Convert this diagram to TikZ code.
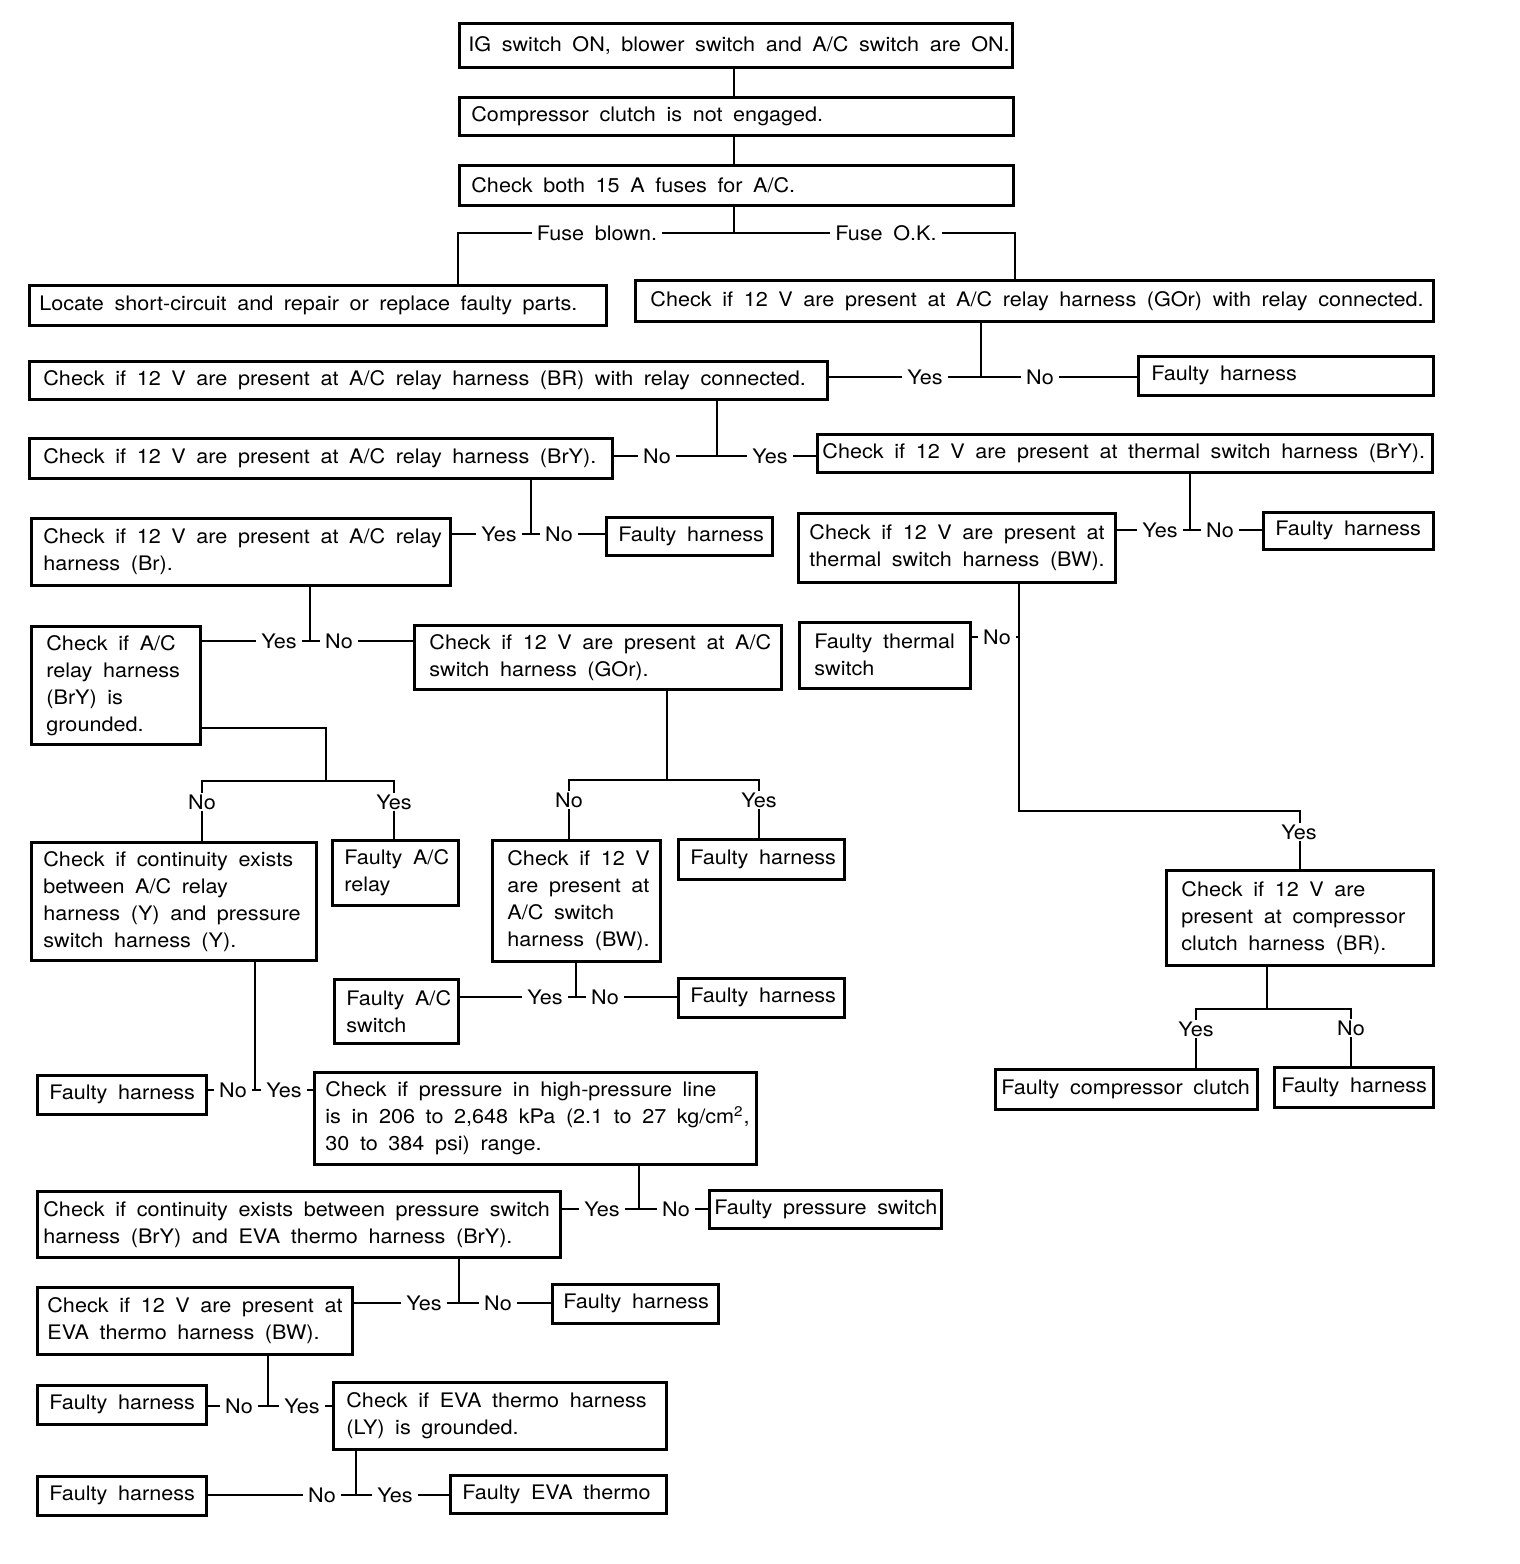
\documentclass[tikz,border=0pt]{standalone}
\usepackage{fontspec}
\setmainfont{TeX Gyre Heros}[FakeStretch=1.08,WordSpace=1.77]
\newcommand\chartfont{\fontsize{10}{13.5}\selectfont}
\newcommand\chartbox[6][6.5pt]{%
  \node[box={#4}{#5}] (#2) at (#3) {};
  \node[txt] (#2t) at ([xshift=#1]#2.west) {#6};}

\begin{document}
\begin{tikzpicture}[x=0.5pt,y=-0.5pt,font=\chartfont,
  box/.style 2 args={draw,line width=1.3pt,anchor=north west,
    minimum width=#1*0.5pt,minimum height=#2*0.5pt},
  txt/.style={anchor=west,align=left,inner sep=0pt},
  lbl/.style={fill=white,inner xsep=2.5pt,inner ysep=1pt},
  link/.style={line width=0.9pt}]
\useasboundingbox (0,0) rectangle (1520,1564);
\chartbox[5pt]{b1}{458,22}{553}{44}{IG switch ON, blower switch and A/C switch are ON.}
\chartbox{b2}{458,96}{554}{38}{Compressor clutch is not engaged.}
\chartbox{b3}{458,164}{554}{40}{Check both 15 A fuses for A/C.}
\chartbox[5.5pt]{b4}{28,284}{577}{40}{Locate short-circuit and repair or replace faulty parts.}
\chartbox[8pt]{b5}{634,279}{798}{41}{Check if 12 V are present at A/C relay harness (GOr) with relay connected.}
\chartbox[7.5pt]{b6}{28,360}{798}{38}{Check if 12 V are present at A/C relay harness (BR) with relay connected.}
\chartbox[7pt]{f1}{1137,355}{295}{39}{Faulty harness}
\chartbox[7.5pt]{b7}{28,437}{583}{40}{Check if 12 V are present at A/C relay harness (BrY).}
\chartbox[3pt]{b8}{816,433}{615}{38}{Check if 12 V are present at thermal switch harness (BrY).}
\chartbox{b9}{30,517}{419}{67}{Check if 12 V are present at A/C relay\\harness (Br).}
\chartbox{f2}{605,516}{166}{38}{Faulty harness}
\chartbox[6pt]{b10}{797,512}{317}{69}{Check if 12 V are present at\\thermal switch harness (BW).}
\chartbox{f3}{1262,511}{170}{37}{Faulty harness}
\chartbox[8pt]{b11}{30,625}{169}{118}{Check if A/C\\relay harness\\(BrY) is\\grounded.}
\chartbox[8pt]{b12}{413,624}{367}{64}{Check if 12 V are present at A/C\\switch harness (GOr).}
\chartbox[8pt]{f4}{798,621}{171}{66}{Faulty thermal\\switch}
\chartbox[8pt]{b13}{1165,869}{267}{95}{Check if 12 V are\\present at compressor\\clutch harness (BR).}
\chartbox[3.5pt]{f5}{994,1068}{262}{40}{Faulty compressor clutch}
\chartbox[4pt]{f6}{1273,1066}{159}{40}{Faulty harness}
\chartbox{b14}{30,841}{285}{118}{Check if continuity exists\\between A/C relay\\harness (Y) and pressure\\switch harness (Y).}
\chartbox{f7}{331,839}{126}{65}{Faulty A/C\\relay}
\chartbox[8pt]{b15}{491,839}{168}{121}{Check if 12 V\\are present at\\A/C switch\\harness (BW).}
\chartbox{f8}{677,838}{166}{40}{Faulty harness}
\chartbox{f9}{333,978}{124}{64}{Faulty A/C\\switch}
\chartbox{f10}{677,977}{166}{39}{Faulty harness}
\chartbox{f11}{36,1074}{169}{39}{Faulty harness}
\chartbox[6pt]{b16}{313,1071}{442}{92}{Check if pressure in high-pressure line\\is in 206 to 2,648 kPa (2.1 to 27 kg/cm\textsuperscript{2},\\30 to 384 psi) range.}
\chartbox[3.5pt]{b17}{36,1190}{523}{66}{Check if continuity exists between pressure switch\\harness (BrY) and EVA thermo harness (BrY).}
\chartbox[3pt]{f12}{708,1189}{232}{38}{Faulty pressure switch}
\chartbox[5.5pt]{b18}{36,1286}{315}{67}{Check if 12 V are present at\\EVA thermo harness (BW).}
\chartbox[6pt]{f13}{551,1283}{166}{39}{Faulty harness}
\chartbox{f14}{36,1384}{169}{39}{Faulty harness}
\chartbox[7pt]{b19}{332,1381}{333}{67}{Check if EVA thermo harness\\(LY) is grounded.}
\chartbox{f15}{36,1475}{169}{39}{Faulty harness}
\chartbox{f16}{449,1474}{216}{38}{Faulty EVA thermo}

\coordinate (fs) at (734,233);
\coordinate (j1) at (981,377);
\coordinate (j2) at (717,456);
\coordinate (j3) at (531,534);
\coordinate (j4) at (1190,530);
\coordinate (j5) at (310,641);
\coordinate (j6) at (1019,637);
\coordinate (k6) at (1019,811);
\coordinate (j7) at (1267,1009);
\coordinate (y7c) at (1196,1009);
\coordinate (n7c) at (1351,1009);
\coordinate (j8) at (326,781);
\coordinate (n8c) at (202,781);
\coordinate (y8c) at (394,781);
\coordinate (j9) at (667,780);
\coordinate (n9c) at (569,780);
\coordinate (y9c) at (759,780);
\coordinate (j10) at (576,997);
\coordinate (j11) at (255,1090);
\coordinate (j12) at (639,1209);
\coordinate (j13) at (459,1303);
\coordinate (j14) at (268,1406);
\coordinate (j15) at (356,1495);

\draw[link] (b1.south -| fs) -- (b2.north -| fs);
\draw[link] (b2.south -| fs) -- (b3.north -| fs);
\draw[link] (b3.south -| fs) -- (fs);
\draw[link] (b4.north -| b3.west) |- (fs) -| (b5.north -| b3.east);
\draw[link] (b5.south -| j1) -- (j1);
\draw[link] (b6.east |- j1) -- (f1.west |- j1);
\draw[link] (b6.south -| j2) -- (j2);
\draw[link] (b7.east |- j2) -- (b8.west |- j2);
\draw[link] (b7.south -| j3) -- (j3);
\draw[link] (b9.east |- j3) -- (f2.west |- j3);
\draw[link] (b8.south -| j4) -- (j4);
\draw[link] (b10.east |- j4) -- (f3.west |- j4);
\draw[link] (b9.south -| j5) -- (j5);
\draw[link] (b11.east |- j5) -- (b12.west |- j5);
\draw[link] (b10.south -| j6) -- (k6) -| (b13.north);
\draw[link] (f4.east |- j6) -- (j6);
\draw[link] (b13.south -| j7) -- (j7);
\draw[link] (f5.north -| y7c) |- (n7c) -- (f6.north -| n7c);
\draw[link] ([yshift=9pt]b11.south east) -| (j8);
\draw[link] (b14.north -| n8c) |- (y8c) -- (f7.north -| y8c);
\draw[link] (b12.south -| j9) -- (j9);
\draw[link] (b15.north -| n9c) |- (y9c) -- (f8.north -| y9c);
\draw[link] (b15.south -| j10) -- (j10);
\draw[link] (f9.east |- j10) -- (f10.west |- j10);
\draw[link] (b14.south -| j11) -- (j11);
\draw[link] (f11.east |- j11) -- (b16.west |- j11);
\draw[link] (b16.south -| j12) -- (j12);
\draw[link] (b17.east |- j12) -- (f12.west |- j12);
\draw[link] (b17.south -| j13) -- (j13);
\draw[link] (b18.east |- j13) -- (f13.west |- j13);
\draw[link] (b18.south -| j14) -- (j14);
\draw[link] (f14.east |- j14) -- (b19.west |- j14);
\draw[link] (b19.south -| j15) -- (j15);
\draw[link] (f15.east |- j15) -- (f16.west |- j15);

\node[lbl] (fb) at (597,233) {Fuse blown.};
\node[lbl] (fok) at (886,233) {Fuse O.K.};
\node[lbl] (y1) at (925,377) {Yes};
\node[lbl] (n1) at (1040,377) {No};
\node[lbl] (n2) at (657,456) {No};
\node[lbl] (y2) at (770,456) {Yes};
\node[lbl] (y3) at (499,534) {Yes};
\node[lbl] (n3) at (559,534) {No};
\node[lbl] (y4) at (1160,530) {Yes};
\node[lbl] (n4) at (1220,530) {No};
\node[lbl] (y5) at (279,641) {Yes};
\node[lbl] (n5) at (339,641) {No};
\node[lbl] (n6) at (997,637) {No};
\node[lbl] (y6) at (1299,832) {Yes};
\node[lbl] (y7) at (1196,1029) {Yes};
\node[lbl] (n7) at (1351,1028) {No};
\node[lbl] (n8) at (202,802) {No};
\node[lbl] (y8) at (394,802) {Yes};
\node[lbl] (n9) at (569,800) {No};
\node[lbl] (y9) at (759,800) {Yes};
\node[lbl] (y10) at (545,997) {Yes};
\node[lbl] (n10) at (605,997) {No};
\node[lbl] (n11) at (233,1090) {No};
\node[lbl] (y11) at (284,1090) {Yes};
\node[lbl] (y12) at (602,1209) {Yes};
\node[lbl] (n12) at (676,1209) {No};
\node[lbl] (y13) at (424,1303) {Yes};
\node[lbl] (n13) at (498,1303) {No};
\node[lbl] (n14) at (239,1406) {No};
\node[lbl] (y14) at (302,1406) {Yes};
\node[lbl] (n15) at (322,1495) {No};
\node[lbl] (y15) at (395,1495) {Yes};
\end{tikzpicture}
\end{document}
